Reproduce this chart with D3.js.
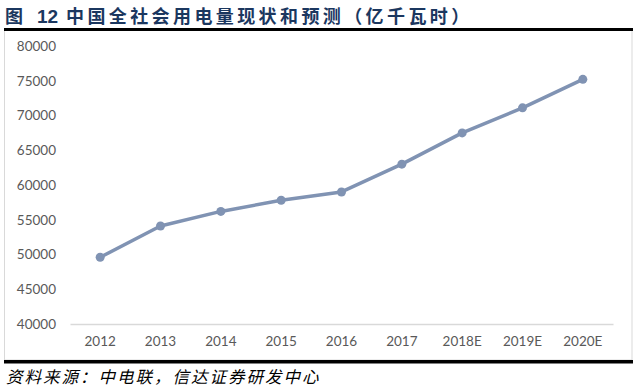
<!DOCTYPE html>
<html>
<head>
<meta charset="utf-8">
<script src="https://cdn.jsdelivr.net/npm/d3@7"></script>
<style>
  html, body { margin: 0; padding: 0; background: #fff; }
  svg { display: block; }
</style>
</head>
<body>
<svg id="chart" width="641" height="390"></svg>
<script>
// ---- data ----
const categories = ["2012", "2013", "2014", "2015", "2016", "2017", "2018E", "2019E", "2020E"];
const consumption = [49600, 54100, 56200, 57800, 59000, 63000, 67500, 71100, 75200];
const yTicks = [40000, 45000, 50000, 55000, 60000, 65000, 70000, 75000, 80000];
const titleLabel = "图";
const titleNumber = "12";
const titleText = "中国全社会用电量现状和预测（亿千瓦时）";
const sourceText = "资料来源：中电联，信达证券研发中心";

const svg = d3.select("#chart");
const cjk = "'Noto Sans CJK SC', 'Noto Sans', sans-serif";
const lat = "Lato, 'Liberation Sans', sans-serif";

// frame
svg.append("rect")
  .attr("x", 4.5).attr("y", 30).attr("width", 627.5).attr("height", 330)
  .attr("fill", "#fff").attr("stroke", "#d9d9d9").attr("stroke-width", 1);

// title
const title = svg.append("text")
  .attr("y", 23)
  .attr("font-family", cjk).attr("font-weight", "bold").attr("font-size", 18)
  .attr("fill", "#1b375f");
title.append("tspan").attr("x", 5).text(titleLabel);
title.append("tspan").attr("x", 37).attr("font-family", "'Liberation Sans', Arial, sans-serif")
  .attr("font-size", 19).text(titleNumber);
title.append("tspan").attr("x", 66).attr("letter-spacing", 3.4).text(titleText);

// rules
svg.append("rect").attr("x", 4).attr("y", 28).attr("width", 629).attr("height", 3).attr("fill", "#000");
svg.append("rect").attr("x", 4).attr("y", 360).attr("width", 629).attr("height", 3.5).attr("fill", "#000");

// source
svg.append("text")
  .attr("x", 6).attr("y", 383)
  .attr("font-family", cjk).attr("font-style", "italic").attr("font-size", 16.5)
  .attr("letter-spacing", 2)
  .attr("fill", "#000")
  .text(sourceText);

// scales
const x = d3.scaleBand().domain(categories).range([70, 613]);
const y = d3.scaleLinear().domain([40000, 80000]).range([324, 46]);

// x axis
const xAxis = svg.append("g").attr("transform", "translate(0,324)")
  .call(d3.axisBottom(x).tickSize(0).tickPadding(12));
xAxis.select(".domain").attr("stroke", "#d9d9d9").attr("stroke-width", 1.3);
xAxis.selectAll("text").attr("font-family", lat).attr("font-size", 13.5).attr("fill", "#595959");

// y axis
const yAxis = svg.append("g").attr("transform", "translate(56,0)")
  .call(d3.axisLeft(y).tickValues(yTicks).tickSize(0).tickPadding(0).tickFormat(d3.format("d")));
yAxis.select(".domain").remove();
yAxis.selectAll("text").attr("font-family", lat).attr("font-size", 13.5).attr("fill", "#595959");

// line
const data = categories.map((c, i) => ({ c, v: consumption[i] }));
const cx = d => x(d.c) + x.bandwidth() / 2;
svg.append("path").datum(data)
  .attr("fill", "none").attr("stroke", "#8093b3").attr("stroke-width", 3.5)
  .attr("stroke-linejoin", "round")
  .attr("d", d3.line().x(cx).y(d => y(d.v)));
svg.selectAll("circle.pt").data(data).join("circle")
  .attr("class", "pt")
  .attr("cx", cx).attr("cy", d => y(d.v)).attr("r", 4.5)
  .attr("fill", "#8093b3");
</script>
</body>
</html>
